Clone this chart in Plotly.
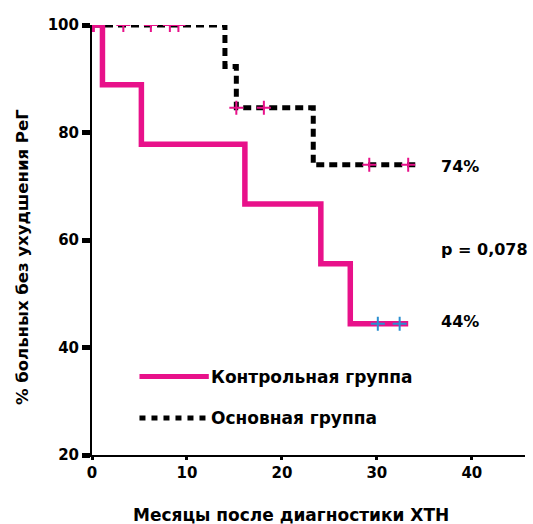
import plotly.graph_objects as go

# Kaplan-Meier step data
ctrl_t = [0, 1.1, 5.2, 16.1, 24.1, 27.2, 33.3]
ctrl_s = [100, 88.9, 77.8, 66.7, 55.6, 44.4, 44.4]
ctrl_cens_t = [30.1, 32.4]
ctrl_cens_s = [44.4, 44.4]

main_t = [0, 14.0, 15.2, 23.3, 34.3]
main_s = [100, 92.3, 84.6, 74.0, 74.0]
main_cens_t = [0.2, 3.3, 6.2, 8.2, 9.1, 15.2, 18.1, 29.2, 33.3]
main_cens_s = [100, 100, 100, 100, 100, 84.6, 84.6, 74.0, 74.0]

x_ticks = [0, 10, 20, 30, 40]
y_ticks = [20, 40, 60, 80, 100]

x_title = "Месяцы после диагностики ХТН"
y_title = "% больных без ухудшения РеГ"

FONT = "DejaVu Sans, sans-serif"
PINK = "#e8118a"

fig = go.Figure()
fig.add_trace(go.Scatter(x=main_t, y=main_s, mode="lines", line_shape="hv",
                         line=dict(color="black", width=5, dash="8px,5px"),
                         name="Основная группа", showlegend=False))
fig.add_trace(go.Scatter(x=ctrl_t, y=ctrl_s, mode="lines", line_shape="hv",
                         line=dict(color=PINK, width=5.5),
                         name="Контрольная группа", showlegend=False))
fig.add_trace(go.Scatter(x=main_cens_t, y=main_cens_s, mode="markers",
                         marker=dict(symbol="cross-thin", size=10,
                                     line=dict(color=PINK, width=2)),
                         showlegend=False))
fig.add_trace(go.Scatter(x=[0], y=[100], mode="markers",
                         marker=dict(symbol="cross-thin", size=10,
                                     line=dict(color=PINK, width=2)),
                         showlegend=False))
fig.add_trace(go.Scatter(x=ctrl_cens_t, y=ctrl_cens_s, mode="markers",
                         marker=dict(symbol="cross-thin", size=10,
                                     line=dict(color="#2a8fd0", width=2)),
                         showlegend=False))

# legend samples
fig.add_trace(go.Scatter(x=[5.0, 12.3], y=[34.6, 34.6], mode="lines",
                         line=dict(color=PINK, width=5), showlegend=False,
                         hoverinfo="skip"))
fig.add_trace(go.Scatter(x=[5.0, 12.3], y=[26.9, 26.9], mode="lines",
                         line=dict(color="black", width=5, dash="6px,6px"),
                         showlegend=False, hoverinfo="skip"))

annots = [
    dict(x=12.3, y=34.6, text="<b>Контрольная группа</b>", size=17),
    dict(x=12.3, y=26.9, text="<b>Основная группа</b>", size=17),
    dict(x=36.5, y=73.7, text="<b>74%</b>", size=16),
    dict(x=36.5, y=58.3, text="<b>p = 0,078</b>", size=16),
    dict(x=36.5, y=44.8, text="<b>44%</b>", size=16),
]
for a in annots:
    fig.add_annotation(x=a["x"], y=a["y"], text=a["text"], showarrow=False,
                       xanchor="left", yanchor="middle",
                       font=dict(family=FONT, size=a["size"], color="black"))

# axis titles
fig.add_annotation(xref="paper", yref="paper", x=0.46, y=-0.14,
                   text=f"<b>{x_title}</b>", showarrow=False,
                   xanchor="center", yanchor="middle",
                   font=dict(family=FONT, size=17, color="black"))
fig.add_annotation(xref="paper", yref="paper", x=-0.162, y=0.46,
                   text=f"<b>{y_title}</b>", showarrow=False, textangle=-90,
                   xanchor="center", yanchor="middle",
                   font=dict(family=FONT, size=16.5, color="black"))

fig.update_layout(
    width=533, height=524,
    margin=dict(l=92, r=8, t=25, b=69),
    plot_bgcolor="white", paper_bgcolor="white",
    font=dict(family=FONT, color="black"),
    showlegend=False,
)
fig.update_xaxes(range=[0, 45.6], tickvals=x_ticks,
                 ticktext=[f"<b>{v}</b>" for v in x_ticks],
                 showline=True, linecolor="black", linewidth=2,
                 ticks="outside", ticklen=3, tickwidth=3, tickcolor="black",
                 showgrid=False, zeroline=False, automargin=False,
                 tickfont=dict(size=15, family=FONT))
fig.update_yaxes(range=[20, 100], tickvals=y_ticks,
                 ticktext=[f"<b>{v}</b>" for v in y_ticks],
                 showline=True, linecolor="black", linewidth=2,
                 ticks="outside", ticklen=8, tickwidth=5, tickcolor="black",
                 showgrid=False, zeroline=False, automargin=False,
                 tickfont=dict(size=15, family=FONT))

fig.write_html("out.html")
